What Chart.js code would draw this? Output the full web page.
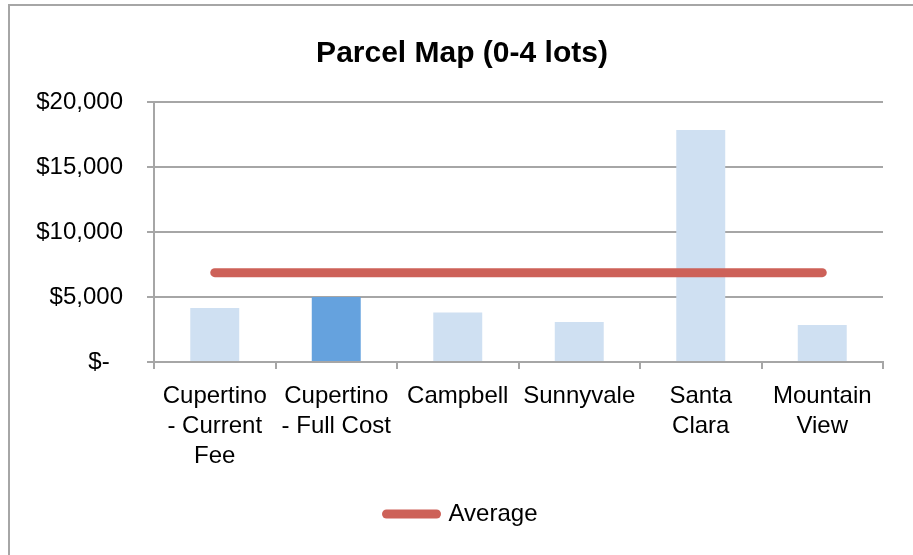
<!DOCTYPE html>
<html>
<head>
<meta charset="utf-8">
<script src="https://cdn.jsdelivr.net/npm/chart.js@4"></script>
<style>
  html, body { margin: 0; padding: 0; background: #fff; overflow: hidden; }
  #frame { position: absolute; left: 8px; top: 4px; width: 1000px; height: 700px;
           border-left: 2px solid #a6a6a6; border-top: 2px solid #a6a6a6; }
  #wrap { position: absolute; left: 0; top: 0; width: 913px; height: 555px; }
</style>
</head>
<body>
<div id="frame"></div>
<div id="wrap"><canvas id="chart"></canvas></div>
<script>
// values
const cities = [
    ['Cupertino', '- Current', 'Fee'],
    ['Cupertino', '- Full Cost'],
    'Campbell',
    'Sunnyvale',
    ['Santa', 'Clara'],
    ['Mountain', 'View']
];
const fees = [4150, 5000, 3800, 3080, 17850, 2850];
const average = [6870, 6870, 6870, 6870, 6870, 6870];
const feeColors = ['#cfe0f2', '#65a2de', '#cfe0f2', '#cfe0f2', '#cfe0f2', '#cfe0f2'];
const yTicks = [0, 5000, 10000, 15000, 20000];

const gridGray = '#a6a6a6';
const labelFont = { family: '"Liberation Sans", Arial, sans-serif', size: 24, lineHeight: 1.25 };

new Chart(document.getElementById('chart').getContext('2d'), {
    type: 'bar',
    data: {
        labels: cities,
        datasets: [
            {
                type: 'line', label: 'Average', data: average,
                borderColor: '#cd6158', backgroundColor: '#cd6158',
                borderWidth: 9, borderCapStyle: 'round', pointRadius: 0, order: 0
            },
            {
                label: 'Fee', data: fees, backgroundColor: feeColors,
                categoryPercentage: 1, barPercentage: 0.403, order: 1
            }
        ]
    },
    options: {
        responsive: true,
        maintainAspectRatio: false,
        animation: false,
        layout: { padding: { left: 30, right: 19, top: 16, bottom: 19 } },
        plugins: {
            title: {
                display: true, text: 'Parcel Map (0-4 lots)', color: '#000',
                font: { family: '"Liberation Sans", Arial, sans-serif', size: 30, weight: 'bold' },
                padding: { top: 20, bottom: 30 }
            },
            legend: {
                position: 'bottom',
                labels: {
                    color: '#000', font: labelFont,
                    usePointStyle: true, pointStyle: 'line', pointStyleWidth: 50,
                    filter: item => item.text === 'Average',
                    // point style items lose the dataset's line width / cap, put them back
                    generateLabels: chart => Chart.defaults.plugins.legend.labels.generateLabels(chart)
                        .map(item => Object.assign(item, { lineWidth: 9, lineCap: 'round', strokeStyle: '#cd6158' }))
                }
            },
            tooltip: { enabled: false }
        },
        scales: {
            x: {
                grid: { drawOnChartArea: false, drawTicks: true, tickLength: 7, color: gridGray, lineWidth: 2 },
                border: { display: true, color: gridGray, width: 2 },
                ticks: { color: '#000', font: labelFont, padding: 12, maxRotation: 0, autoSkip: false },
                afterFit: s => { s.height = 130; }
            },
            y: {
                min: 0, max: 20000,
                afterBuildTicks: s => { s.ticks = yTicks.map(v => ({ value: v })); },
                grid: { color: gridGray, lineWidth: 2, tickLength: 7 },
                border: { display: true, color: gridGray, width: 2 },
                ticks: {
                    color: '#000', font: labelFont, padding: 24,
                    callback: v => v === 0 ? '$-  ' : '$' + v.toLocaleString('en-US')
                },
                afterFit: s => { s.width = 124; }
            },
            // empty strip on the right so the plot ends where the original does
            yRight: {
                position: 'right', display: true,
                grid: { display: false }, border: { display: false }, ticks: { display: false },
                afterFit: s => { s.width = 11; }
            }
        }
    }
});
</script>
</body>
</html>
